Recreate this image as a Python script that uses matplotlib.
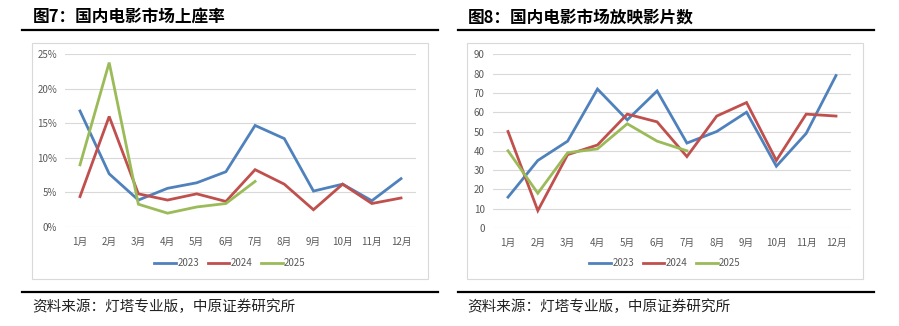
import matplotlib
matplotlib.use('Agg')
import matplotlib.pyplot as plt
from matplotlib.patches import Rectangle
from matplotlib.lines import Line2D

plt.rcParams['font.family'] = ['Noto Sans CJK SC', 'DejaVu Sans']

months = ['1月', '2月', '3月', '4月', '5月', '6月', '7月', '8月', '9月', '10月', '11月', '12月']
years = ['2023', '2024', '2025']
colors = ['#4F81BD', '#C0504D', '#9BBB59']

# 上座率 (%)
occ_2023 = [16.8, 7.7, 3.9, 5.6, 6.4, 8.0, 14.7, 12.8, 5.2, 6.2, 3.8, 7.0]
occ_2024 = [4.4, 16.0, 4.8, 3.9, 4.8, 3.7, 8.3, 6.2, 2.5, 6.2, 3.4, 4.2]
occ_2025 = [9.0, 23.8, 3.3, 2.0, 2.9, 3.4, 6.6]

# 放映影片数
films_2023 = [16, 35, 45, 72, 56, 71, 44, 50, 60, 32, 49, 79]
films_2024 = [50, 9, 38, 43, 59, 55, 37, 58, 65, 35, 59, 58]
films_2025 = [40, 18, 39, 41, 54, 45, 40]

W, H = 899, 326
fig = plt.figure(figsize=(W / 100, H / 100), dpi=100)


def fx(px):
    return px / W


def fy(py):
    return 1 - py / H


def panel(title, tx, x0, x1, box0, box1, ax_rect, series, yticks, ylim, fmt):
    # title and rules
    fig.text(fx(tx), fy(17), title, fontsize=12, fontweight='bold', va='center', ha='left')
    fig.add_artist(Line2D([fx(x0), fx(x1)], [fy(30), fy(30)], color='black', lw=1.6))
    fig.add_artist(Line2D([fx(x0), fx(x1)], [fy(292), fy(292)], color='black', lw=1.6))
    fig.text(fx(box0), fy(307), '资料来源：灯塔专业版，中原证券研究所', fontsize=10.5,
             va='center', ha='left', color='#222222')
    # chart frame
    fig.add_artist(Rectangle((fx(box0), fy(279)), fx(box1 - box0), (279 - 43) / H,
                             fill=False, edgecolor='#D9D9D9', lw=0.8))

    ax = fig.add_axes(ax_rect)
    for vals, c, yr in zip(series, colors, years):
        ax.plot(range(len(vals)), vals, color=c, lw=2.0, label=yr, solid_joinstyle='miter')
    ax.set_xlim(-0.5, 11.5)
    ax.set_ylim(*ylim)
    ax.set_yticks(yticks)
    ax.set_yticklabels([fmt(v) for v in yticks])
    ax.set_xticks(range(12))
    ax.set_xticklabels(months)
    ax.tick_params(length=0, labelsize=7, colors='#595959', pad=7)
    ax.tick_params(axis='y', pad=6)
    for s in ax.spines.values():
        s.set_visible(False)
    ax.grid(axis='y', color='#D9D9D9', lw=0.8)
    ax.set_axisbelow(True)
    ax.patch.set_alpha(0)
    cx = (box0 + box1) / 2
    fig.legend(*ax.get_legend_handles_labels(), loc='center', bbox_to_anchor=(fx(cx), fy(263)),
               ncol=3, frameon=False, fontsize=7, handlelength=2.2, handletextpad=0.15,
               columnspacing=0.9, labelcolor='#595959')
    return ax


panel('图7：国内电影市场上座率', 33, 22, 438, 32, 428,
      [fx(65.4), fy(227), fx(415.6 - 65.4), (227 - 54.3) / H],
      [occ_2023, occ_2024, occ_2025], [0, 5, 10, 15, 20, 25], (0, 25),
      lambda v: f'{v}%')

panel('图8：国内电影市场放映影片数', 468, 458, 874, 467, 863,
      [fx(493.1), fy(228), fx(850.9 - 493.1), (228 - 54.3) / H],
      [films_2023, films_2024, films_2025], list(range(0, 100, 10)), (0, 90),
      lambda v: f'{v}')

fig.savefig('out.png', dpi=100)
